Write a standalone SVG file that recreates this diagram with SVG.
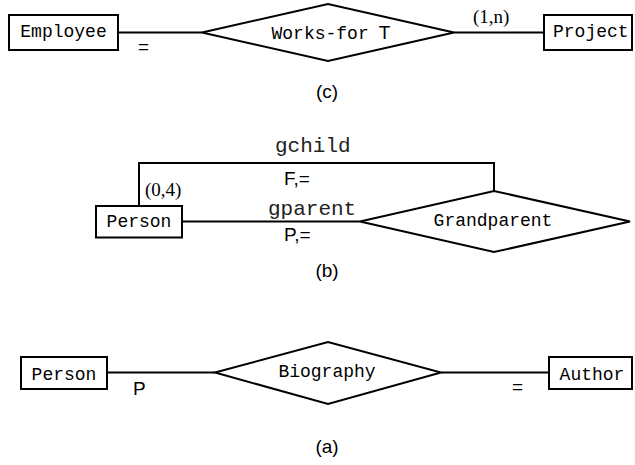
<svg xmlns="http://www.w3.org/2000/svg" width="635" height="465" viewBox="0 0 635 465">
<style>
.box{fill:#fff;stroke:#000;stroke-width:2}
.dia{fill:#fff;stroke:#000;stroke-width:2}
.ln{fill:none;stroke:#000;stroke-width:2}
.mono{font-family:"Liberation Mono","DejaVu Sans Mono",monospace;font-size:18px;fill:#000}
.role{font-family:"Liberation Mono","DejaVu Sans Mono",monospace;font-size:21px;fill:#222}
.sans{font-family:"Liberation Sans",Arial,sans-serif;font-size:19px;fill:#000}
.serif{font-family:"Liberation Serif","Times New Roman",serif;font-size:19px;fill:#000}
</style>
<rect width="635" height="465" fill="#fff"/>
<g id="connectors">
  <line class="ln" x1="118" y1="32.5" x2="202" y2="32.5"/>
  <line class="ln" x1="454" y1="32.5" x2="544" y2="32.5"/>
  <polyline class="ln" points="139,206 139,163 494,163 494,191"/>
  <line class="ln" x1="182" y1="221.5" x2="360" y2="221.5"/>
  <line class="ln" x1="107" y1="372.5" x2="215" y2="372.5"/>
  <line class="ln" x1="441" y1="372.5" x2="549" y2="372.5"/>
  <text class="sans" x="138" y="53">=</text>
  <text class="serif" x="473" y="23">(1,n)</text>
  <text class="role" x="275" y="152">gchild</text>
  <text class="sans" x="284" y="185">F,=</text>
  <text class="serif" x="145" y="196">(0,4)</text>
  <text class="role" x="268" y="215">gparent</text>
  <text class="sans" x="284" y="241">P,=</text>
  <text class="sans" x="133" y="395">P</text>
  <text class="sans" x="512" y="393">=</text>
</g>
<g id="employee">
  <rect class="box" x="9" y="15" width="109" height="35"/>
  <text class="mono" x="63.5" y="37" text-anchor="middle">Employee</text>
</g>
<g id="works-for">
  <polygon class="dia" points="202,32.5 328,4 454,32.5 328,61"/>
  <text class="mono" x="271.5" y="39">Works-for<tspan class="sans" font-size="16" dx="10">T</tspan></text>
</g>
<g id="project">
  <rect class="box" x="544" y="15" width="88" height="35"/>
  <text class="mono" x="553" y="37">Project</text>
</g>
<text class="sans" x="327" y="98" text-anchor="middle">(c)</text>
<g id="person-b">
  <rect class="box" x="96" y="206" width="86" height="31.5"/>
  <text class="mono" x="139" y="226.5" text-anchor="middle">Person</text>
</g>
<g id="grandparent">
  <polygon class="dia" points="360,221.5 494,191 630,221.5 494,252"/>
  <text class="mono" x="493" y="226" text-anchor="middle">Grandparent</text>
</g>
<text class="sans" x="327" y="277" text-anchor="middle">(b)</text>
<g id="person-a">
  <rect class="box" x="21" y="357" width="86" height="32"/>
  <text class="mono" x="64" y="380" text-anchor="middle">Person</text>
</g>
<g id="biography">
  <polygon class="dia" points="215,372.5 328,342 441,372.5 328,404"/>
  <text class="mono" x="327" y="377" text-anchor="middle">Biography</text>
</g>
<g id="author">
  <rect class="box" x="549" y="357" width="83" height="32"/>
  <text class="mono" x="592" y="380" text-anchor="middle">Author</text>
</g>
<text class="sans" x="327" y="453" text-anchor="middle">(a)</text>
</svg>
